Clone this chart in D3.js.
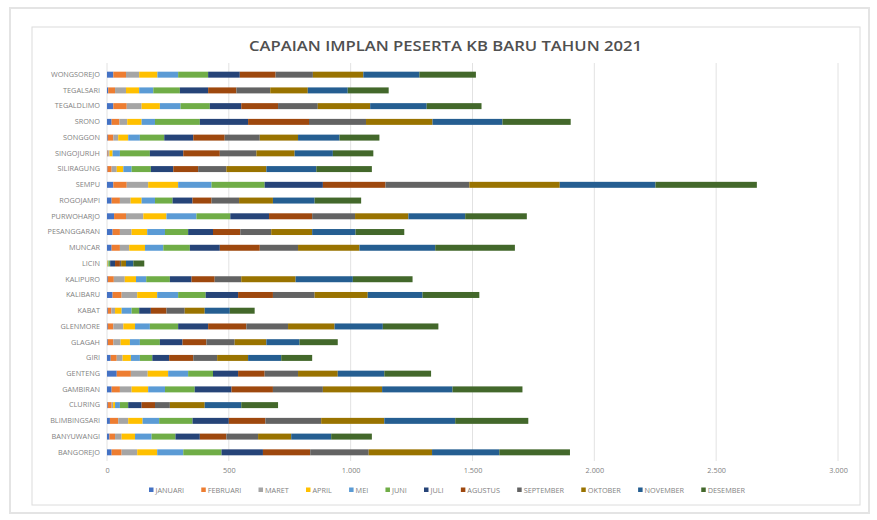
<!DOCTYPE html>
<html>
<head>
<meta charset="utf-8">
<script src="https://cdn.jsdelivr.net/npm/d3@7"></script>
<style>
  html, body { margin: 0; padding: 0; background: #ffffff; }
  svg { display: block; }
  text { font-family: "Open Sans", "Noto Sans", "DejaVu Sans", sans-serif; }
</style>
</head>
<body>
<svg id="chart" width="877" height="520"></svg>
<script>
const title = "CAPAIAN IMPLAN PESERTA KB BARU TAHUN 2021";
const categories = ["WONGSOREJO","TEGALSARI","TEGALDLIMO","SRONO","SONGGON","SINGOJURUH","SILIRAGUNG","SEMPU","ROGOJAMPI","PURWOHARJO","PESANGGARAN","MUNCAR","LICIN","KALIPURO","KALIBARU","KABAT","GLENMORE","GLAGAH","GIRI","GENTENG","GAMBIRAN","CLURING","BLIMBINGSARI","BANYUWANGI","BANGOREJO"];
const months = ["JANUARI","FEBRUARI","MARET","APRIL","MEI","JUNI","JULI","AGUSTUS","SEPTEMBER","OKTOBER","NOVEMBER","DESEMBER"];
const januari   = [26,5,26,19,3,2,2,26,19,29,23,19,0,3,23,3,3,3,15,40,19,3,12,10,19];
const februari  = [52,28,55,32,23,3,17,55,34,49,30,34,0,25,37,15,23,23,25,58,34,16,34,23,41];
const maret     = [54,45,61,32,20,5,21,88,44,71,48,38,0,45,64,15,41,30,24,69,48,6,41,27,64];
const april     = [75,54,75,59,41,13,27,123,45,95,64,65,3,46,82,27,48,38,34,84,68,8,59,55,82];
const mei       = [85,58,85,55,48,30,34,137,55,123,73,75,3,42,86,41,61,41,37,82,69,20,68,68,107];
const juni      = [123,109,120,184,100,123,79,218,72,139,95,109,7,97,113,31,116,82,51,102,122,34,137,98,157];
const juli      = [130,116,129,198,119,137,92,239,82,159,102,123,20,89,133,48,123,93,69,103,151,55,149,100,170];
const agustus   = [147,116,151,250,129,150,102,257,78,177,112,164,20,95,143,64,157,98,99,109,170,55,150,109,194];
const september = [153,139,163,234,144,150,116,344,113,176,127,157,5,109,171,75,171,116,98,137,205,61,229,130,240];
const oktober   = [207,154,215,273,157,157,164,371,139,219,168,252,20,223,218,82,191,130,127,163,243,143,259,136,260];
const november  = [230,164,232,287,170,157,205,393,171,233,178,311,30,235,225,103,198,136,136,191,289,150,291,164,276];
const desember  = [232,168,225,280,164,166,228,416,191,253,200,327,45,245,233,102,228,157,127,192,287,151,300,167,290];
const xTicks = [0,500,1000,1500,2000,2500,3000];
const colors = ["#4472C4","#ED7D31","#A5A5A5","#FFC000","#5B9BD5","#70AD47","#264478","#9E480E","#636363","#997300","#255E91","#43682B"];

const series = [januari,februari,maret,april,mei,juni,juli,agustus,september,oktober,november,desember];
const rows = categories.map((c, i) => {
  const r = { category: c };
  months.forEach((m, j) => { r[m] = series[j][i]; });
  return r;
});

const svg = d3.select("#chart");

// frames
svg.append("rect").attr("x", 10).attr("y", 8).attr("width", 859).attr("height", 505)
  .attr("fill", "#ffffff").attr("stroke", "#e4e4e4").attr("stroke-width", 2);
svg.append("rect").attr("x", 32).attr("y", 27).attr("width", 828).attr("height", 478)
  .attr("fill", "#ffffff").attr("stroke", "#dcdcdc").attr("stroke-width", 1);

const x = d3.scaleLinear().domain([0, 3000]).range([107, 838]);
const y = d3.scaleBand().domain(categories).range([66.8, 460.2]).paddingInner(0.62).paddingOuter(0.31);

// gridlines
svg.append("g").selectAll("line").data(xTicks).join("line")
  .attr("x1", d => x(d)).attr("x2", d => x(d))
  .attr("y1", 63).attr("y2", 461)
  .attr("stroke", "#e2e2e2").attr("stroke-width", 1);

// title
svg.append("text").attr("x", 445.5).attr("y", 51).attr("text-anchor", "middle")
  .attr("font-size", 14).attr("font-weight", 600).attr("fill", "#505050")
  .attr("textLength", 393).attr("lengthAdjust", "spacingAndGlyphs")
  .text(title);

// stacked bars
const stack = d3.stack().keys(months);
const stacked = stack(rows);
svg.append("g").selectAll("g").data(stacked).join("g")
  .attr("fill", (d, i) => colors[i])
  .selectAll("rect").data(d => d).join("rect")
  .attr("x", d => x(d[0]))
  .attr("width", d => Math.max(0, x(d[1]) - x(d[0])))
  .attr("y", d => y(d.data.category))
  .attr("height", y.bandwidth());

// category axis
const yAxis = svg.append("g").attr("transform", "translate(107,0)")
  .call(d3.axisLeft(y).tickSize(0).tickPadding(7));
yAxis.select(".domain").remove();
yAxis.selectAll("text").attr("font-size", 7.3).attr("fill", "#7f7f7f")
  .style("font-family", "'Open Sans', sans-serif");

// value axis
const locale = d3.formatLocale({ decimal: ",", thousands: ".", grouping: [3], currency: ["", ""] });
const xAxis = svg.append("g").attr("transform", "translate(0,464)")
  .call(d3.axisBottom(x).tickValues(xTicks).tickSize(0).tickPadding(4).tickFormat(locale.format(",")));
xAxis.select(".domain").remove();
xAxis.selectAll("text").attr("font-size", 7.3).attr("fill", "#7f7f7f")
  .style("font-family", "'Open Sans', sans-serif");

// legend
const legend = svg.append("g").attr("transform", "translate(0,490)");
const items = legend.selectAll("g").data(months).join("g");
items.append("rect").attr("width", 4.5).attr("height", 4.5).attr("y", -2.5)
  .attr("fill", (d, i) => colors[i]);
items.append("text").attr("x", 6.5).attr("dy", "0.35em")
  .attr("font-size", 7.3).attr("fill", "#7f7f7f").text(d => d);
const widths = [];
items.each(function () { widths.push(6.5 + this.querySelector("text").getComputedTextLength()); });
const legendStart = 149, legendEnd = 745;
const gap = (legendEnd - legendStart - d3.sum(widths)) / (months.length - 1);
let cx = legendStart;
items.attr("transform", (d, i) => { const t = `translate(${cx},0)`; cx += widths[i] + gap; return t; });
</script>
</body>
</html>
